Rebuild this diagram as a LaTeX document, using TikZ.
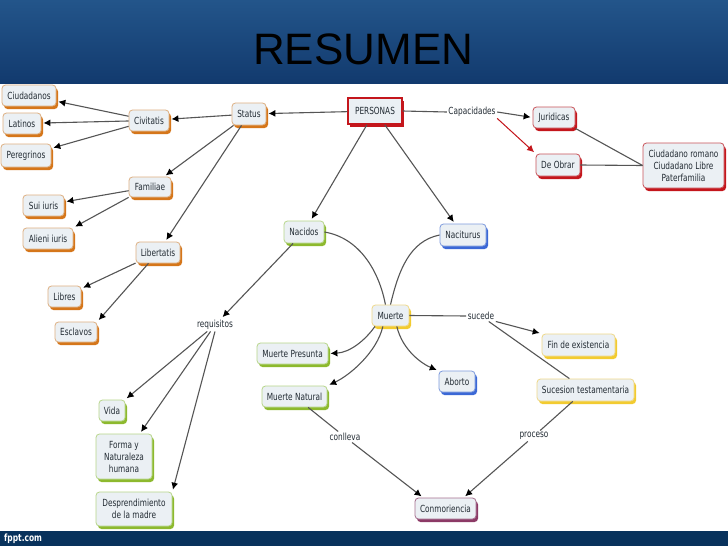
\documentclass[tikz,border=0pt]{standalone}
\usepackage{fontspec}
\setmainfont[FakeStretch=0.75]{DejaVu Sans}
\newfontfamily\titlefont{Liberation Sans}
\usetikzlibrary{arrows.meta,shadows}
\definecolor{txt}{HTML}{222B33}
\definecolor{boxfill}{HTML}{EBF0F4}
\definecolor{linec}{HTML}{555555}
\definecolor{bandtop}{HTML}{23558A}
\definecolor{bandbot}{HTML}{123A6E}
\definecolor{footerc}{HTML}{08325C}
\definecolor{orB}{HTML}{DDAF80}\definecolor{orS}{HTML}{D5761A}
\definecolor{reB}{HTML}{C9545A}\definecolor{reS}{HTML}{C4161C}
\definecolor{grB}{HTML}{B7D68A}\definecolor{grS}{HTML}{8DB92E}
\definecolor{blB}{HTML}{7F9BDD}\definecolor{blS}{HTML}{3B68D6}
\definecolor{yeB}{HTML}{EFD98A}\definecolor{yeS}{HTML}{F2CB30}
\definecolor{puB}{HTML}{A56F8E}\definecolor{puS}{HTML}{8C3A66}
\tikzset{
  cbox/.style n args={2}{draw=#1,fill=boxfill,rounded corners=3.5pt,line width=0.8pt,inner sep=0pt,align=center,
    text=txt,font=\fontsize{9.8}{12}\selectfont,
    general shadow={shadow xshift=2pt,shadow yshift=-3pt,fill=#2,rounded corners=3.5pt}},
  orangebox/.style={cbox={orB}{orS}},
  redbox/.style={cbox={reB}{reS}},
  greenbox/.style={cbox={grB}{grS}},
  bluebox/.style={cbox={blB}{blS}},
  yellowbox/.style={cbox={yeB}{yeS}},
  purplebox/.style={cbox={puB}{puS}},
  rootbox/.style={draw=reS,fill=boxfill,line width=1.4pt,inner sep=0pt,align=center,text=txt,font=\fontsize{9.8}{12}\selectfont,
    general shadow={shadow xshift=2pt,shadow yshift=-3pt,fill=reS}},
  phrase/.style={inner sep=1.5pt,text=txt,font=\fontsize{9.8}{12}\selectfont},
  link/.style={draw=linec,line width=1.1pt},
  arr/.style={link,-{Latex[length=7pt,width=7pt,black]},shorten >=2pt},
  redarr/.style={draw=reS,line width=1pt,-{Latex[length=7pt,width=7pt,reS]},shorten >=2pt}
}
\begin{document}
\begin{tikzpicture}[x=1pt,y=-1pt]
\useasboundingbox (0,0) rectangle (728,546);
\fill[white] (0,0) rectangle (728,546);
\shade[top color=bandtop,bottom color=bandbot] (0,0) rectangle (728,83);
\fill[footerc] (0,531) rectangle (728,546);
\node[anchor=base west,inner sep=0pt,font=\titlefont\fontsize{44}{44}\selectfont,text=black] (title) at (253,64) {RESUMEN};
\node[anchor=base west,inner sep=0pt,font=\bfseries\fontsize{10}{10}\selectfont,text=white] (fppt) at (4,541) {fppt.com};
% boxes
\node[orangebox,minimum width=54pt,minimum height=21pt] (ciud) at (29,95.5) {Ciudadanos};
\node[orangebox,minimum width=38pt,minimum height=21pt] (lat) at (22,123.5) {Latinos};
\node[orangebox,minimum width=50pt,minimum height=23pt] (per) at (26,155.5) {Peregrinos};
\node[orangebox,minimum width=40pt,minimum height=21pt] (civ) at (149,120.5) {Civitatis};
\node[orangebox,minimum width=34pt,minimum height=22pt] (stat) at (249,114) {Status};
\node[orangebox,minimum width=42pt,minimum height=20pt] (fam) at (150,187) {Familiae};
\node[orangebox,minimum width=41pt,minimum height=21pt] (sui) at (43.5,205.5) {Sui iuris};
\node[orangebox,minimum width=50pt,minimum height=21pt] (ali) at (48,238.5) {Alieni iuris};
\node[orangebox,minimum width=44pt,minimum height=21pt] (lib) at (158,252.5) {Libertatis};
\node[orangebox,minimum width=33pt,minimum height=21pt] (lbr) at (64.5,296.5) {Libres};
\node[orangebox,minimum width=42pt,minimum height=20pt] (esc) at (76,332) {Esclavos};
\node[rootbox,minimum width=54pt,minimum height=26pt] (pers) at (375,111) {PERSONAS};
\node[redbox,minimum width=42pt,minimum height=21pt] (jur) at (554,117.5) {Juridicas};
\node[redbox,minimum width=44pt,minimum height=22pt] (obr) at (558,165) {De Obrar};
\node[redbox,minimum width=81pt,minimum height=45pt] (ciu2) at (683.5,165.5) {Ciudadano romano\\Ciudadano Libre\\Paterfamilia};
\node[greenbox,minimum width=40pt,minimum height=22pt] (nac) at (304,232) {Nacidos};
\node[bluebox,minimum width=46pt,minimum height=22pt] (ncit) at (463,235) {Naciturus};
\node[yellowbox,minimum width=37pt,minimum height=21pt] (mue) at (390.5,315.5) {Muerte};
\node[greenbox,minimum width=71pt,minimum height=21pt] (pres) at (292.5,353.5) {Muerte Presunta};
\node[greenbox,minimum width=65pt,minimum height=21pt] (nat) at (294.5,396.5) {Muerte Natural};
\node[greenbox,minimum width=26pt,minimum height=21pt] (vida) at (112,410.5) {Vida};
\node[greenbox,minimum width=56pt,minimum height=45pt] (forma) at (124,456.5) {Forma y\\Naturaleza\\humana};
\node[greenbox,minimum width=76pt,minimum height=34pt] (desp) at (134,509) {Desprendimiento\\de la madre};
\node[bluebox,minimum width=36pt,minimum height=21pt] (abo) at (457,381.5) {Aborto};
\node[yellowbox,minimum width=73pt,minimum height=22pt] (fin) at (578.5,345) {Fin de existencia};
\node[yellowbox,minimum width=97pt,minimum height=22pt] (suc) at (585.5,390) {Sucesion testamentaria};
\node[purplebox,minimum width=61pt,minimum height=21pt] (con) at (445.5,508.5) {Conmoriencia};
% linking phrases
\node[phrase] (req) at (215,325) {requisitos};
\node[phrase] (cap) at (472,112) {Capacidades};
\node[phrase] (suce) at (481,316) {sucede};
\node[phrase] (conl) at (345,437) {conlleva};
\node[phrase] (proc) at (534,436) {proceso};
% connectors
\draw[arr] (civ) -- (ciud);
\draw[arr] (civ) -- (lat);
\draw[arr] (civ) -- (per);
\draw[arr] (stat) -- (civ);
\draw[arr] (stat) -- (fam);
\draw[arr] (stat) -- (lib);
\draw[arr] (fam) -- (sui);
\draw[arr] (fam.south west) -- (ali.north east);
\draw[arr] (lib) -- (lbr);
\draw[arr] (lib) -- (esc.north east);
\draw[arr] (pers) -- (stat);
\draw[arr] (pers) -- (nac);
\draw[arr] (pers) -- (ncit);
\draw[link] (pers.east) -- (cap.west);
\draw[arr] (cap.east) -- (jur.west);
\draw[redarr] (cap.south east) -- (obr.north west);
\draw[link] (jur.south east) -- (ciu2.west);
\draw[link] (obr.east) -- (ciu2.west);
\draw[arr] (nac) -- (req);
\draw[arr] (req) -- (vida);
\draw[arr] (req) -- (forma);
\draw[arr] (req.south) -- (desp.north east);
\draw[link] (nac.east) .. controls +(36,6) and +(-6,-32) .. (mue.115);
\draw[link] (ncit.west) .. controls +(-30,6) and +(8,-34) .. (mue.north);
\draw[arr] (mue.215) .. controls +(-9,13) and +(22,-1) .. (pres.east);
\draw[arr] (mue.235) .. controls +(-6,26) and +(22,-10) .. (nat.north east);
\draw[arr] (mue.300) .. controls +(6,25) and +(-15,-6) .. (abo.north west);
\draw[link] (mue.east) -- (suce.west);
\draw[arr] (suce.south east) -- (fin.north west);
\draw[link] (suce) -- (suc);
\draw[link] (nat) -- (conl);
\draw[arr] (conl) -- (con.154);
\draw[link] (suc) -- (proc);
\draw[arr] (proc) -- (con.31);
\end{tikzpicture}
\end{document}
